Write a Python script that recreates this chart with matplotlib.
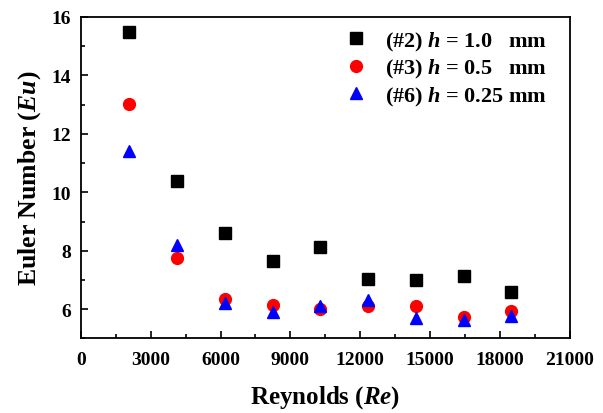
import matplotlib
matplotlib.use("Agg")
import matplotlib.pyplot as plt
from matplotlib.ticker import MultipleLocator

plt.rcParams['font.family'] = 'Liberation Serif'
plt.rcParams['font.weight'] = 'bold'
plt.rcParams['mathtext.fontset'] = 'custom'
plt.rcParams['mathtext.rm'] = 'Liberation Serif:bold'
plt.rcParams['mathtext.it'] = 'Liberation Serif:bold:italic'
plt.rcParams['mathtext.bf'] = 'Liberation Serif:bold'

re = [2060, 4110, 6175, 8235, 10285, 12330, 14395, 16440, 18490]
eu_h10 = [15.47, 10.40, 8.60, 7.64, 8.12, 7.03, 7.01, 7.15, 6.60]
eu_h05 = [13.03, 7.74, 6.36, 6.14, 6.02, 6.12, 6.12, 5.75, 5.93]
eu_h025 = [11.42, 8.19, 6.20, 5.90, 6.10, 6.30, 5.70, 5.62, 5.77]

labels = [r"(#2) $h$ = 1.0   mm", r"(#3) $h$ = 0.5   mm", r"(#6) $h$ = 0.25 mm"]

fig = plt.figure(figsize=(6.03, 4.14), dpi=100)
ax = fig.add_axes([0.134, 0.180, 0.811, 0.777])

ax.plot(re, eu_h10, 's', color='black', markersize=8, linestyle='none', label=labels[0])
ax.plot(re, eu_h05, 'o', color='red', markersize=8.5, linestyle='none', label=labels[1])
ax.plot(re, eu_h025, '^', color='blue', markersize=9, linestyle='none', label=labels[2])

ax.set_xlim(0, 21000)
ax.set_ylim(5, 16)
ax.xaxis.set_major_locator(MultipleLocator(3000))
ax.xaxis.set_minor_locator(MultipleLocator(1500))
ax.yaxis.set_minor_locator(MultipleLocator(1))
ax.set_yticks([6, 8, 10, 12, 14, 16])
ax.tick_params(which='both', direction='in', top=False, right=False, width=1.2)
ax.tick_params(which='major', length=5, labelsize=14, pad=7)
ax.tick_params(axis='x', which='major', pad=9)
ax.tick_params(which='minor', length=3)
for sp in ax.spines.values():
    sp.set_linewidth(1.3)
for lab in ax.get_xticklabels() + ax.get_yticklabels():
    lab.set_fontweight('bold')

ax.set_xlabel(r"Reynolds ($Re$)", fontsize=18, fontweight='bold', labelpad=11)
ax.set_ylabel(r"Euler Number ($Eu$)", fontsize=18.5, fontweight='bold', labelpad=6)

leg = ax.legend(loc='upper right', frameon=False, fontsize=16, handletextpad=0.8,
                labelspacing=0.2, borderaxespad=0.4, handlelength=1.0,
                bbox_to_anchor=(0.99, 1.015))

fig.savefig("out.png", dpi=100)
